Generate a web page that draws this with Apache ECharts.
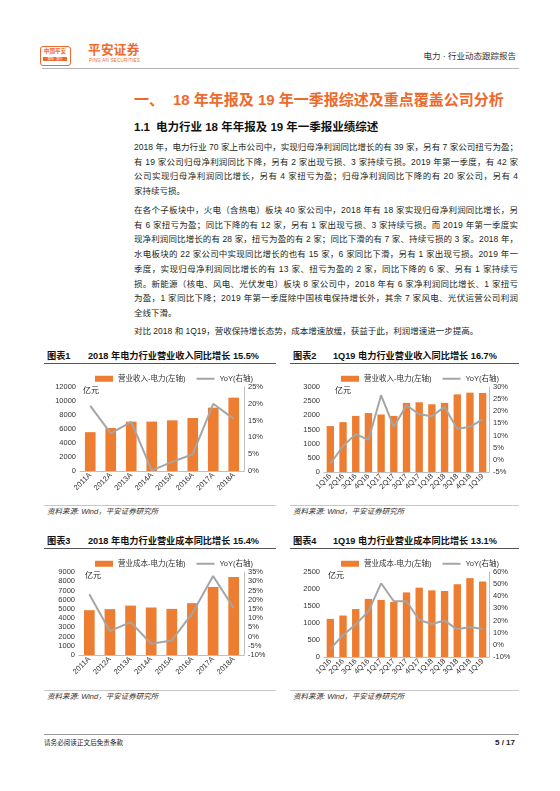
<!DOCTYPE html>
<html>
<head>
<meta charset="utf-8">
<script src="https://cdn.jsdelivr.net/npm/echarts@6/dist/echarts.min.js"></script>
<style>
  body { margin: 0; background: #fff; }
  #page {
    position: relative; width: 560px; height: 791px; overflow: hidden; background: #fff;
    font-family: "Liberation Sans", "Noto Sans CJK SC", sans-serif; color: #231f20;
  }
  .abs { position: absolute; white-space: nowrap; }
  .line { position: absolute; left: 134px; font-size: 8.5px; line-height: 12px; white-space: nowrap; color: #231f20; }
  .ctitle { position: absolute; font-size: 9.2px; font-weight: bold; line-height: 12px; color: #111; }
  .rule { position: absolute; height: 0; }
  .src { position: absolute; font-size: 7.5px; font-style: italic; color: #333; line-height: 10px; }
  .chart { position: absolute; }
</style>
</head>
<body>
<div id="page">
  <!-- 页眉 -->
  <div class="abs" style="left:40px;top:46px;width:29px;height:18px;border:1px solid #ee6a2c;border-radius:3px;"></div>
  <div class="abs" style="left:43px;top:48px;width:24px;font-size:5.6px;line-height:7px;font-weight:bold;color:#ee6a2c;text-align:center;">中国平安</div>
  <div class="abs" style="left:43px;top:57px;width:24px;height:4px;background:#ee6a2c;font-size:3px;line-height:4px;color:#fff;text-align:center;">保险 · 银行</div>
  <div class="abs" style="left:88px;top:43px;font-size:12.6px;line-height:15px;font-weight:bold;color:#ee6a2c;letter-spacing:0.3px;">平安证券</div>
  <div class="abs" style="left:89px;top:58px;font-size:4.6px;line-height:5px;color:#ee6a2c;letter-spacing:0.2px;">PING AN SECURITIES</div>
  <div class="abs" style="right:44px;top:51px;font-size:8.5px;line-height:11px;color:#333;">电力 · 行业动态跟踪报告</div>
  <div class="rule" style="left:42px;top:68px;width:477px;border-top:1.5px solid #b5b5b5;"></div>

  <!-- 标题 -->
  <div class="abs" style="left:134px;top:91px;font-size:15px;line-height:18px;font-weight:bold;color:#ee6a2c;">一、</div>
  <div class="abs" style="left:173px;top:91px;font-size:15px;line-height:18px;font-weight:bold;color:#ee6a2c;">18 年年报及 19 年一季报综述及重点覆盖公司分析</div>
  <div class="abs" style="left:134px;top:120px;font-size:11.5px;line-height:14px;font-weight:bold;color:#111;">1.1</div>
  <div class="abs" style="left:156px;top:120px;font-size:11.5px;line-height:14px;font-weight:bold;color:#111;">电力行业 18 年年报及 19 年一季报业绩综述</div>

  <div id="body"></div>

  <!-- 图表标题 -->
  <div class="ctitle" style="left:47px;top:350px;">图表1</div>
  <div class="ctitle" style="left:88px;top:350px;">2018 年电力行业营业收入同比增长 15.5%</div>
  <div class="rule" style="left:44px;top:363px;width:232px;border-top:1px solid #555;"></div>
  <div class="ctitle" style="left:293px;top:350px;">图表2</div>
  <div class="ctitle" style="left:333px;top:350px;">1Q19 电力行业营业收入同比增长 16.7%</div>
  <div class="rule" style="left:290px;top:363px;width:229px;border-top:1px solid #555;"></div>

  <div id="c1" class="chart" style="left:44px;top:366px;width:234px;height:138px;"></div>
  <div id="c2" class="chart" style="left:290px;top:366px;width:230px;height:138px;"></div>

  <div class="rule" style="left:44px;top:505px;width:232px;border-top:1px solid #c8c8c8;"></div>
  <div class="src" style="left:47px;top:507px;">资料来源: Wind，平安证券研究所</div>
  <div class="rule" style="left:290px;top:505px;width:229px;border-top:1px solid #c8c8c8;"></div>
  <div class="src" style="left:293px;top:507px;">资料来源: Wind，平安证券研究所</div>

  <div class="ctitle" style="left:47px;top:535px;">图表3</div>
  <div class="ctitle" style="left:88px;top:535px;">2018 年电力行业营业成本同比增长 15.4%</div>
  <div class="rule" style="left:44px;top:548px;width:232px;border-top:1px solid #555;"></div>
  <div class="ctitle" style="left:293px;top:535px;">图表4</div>
  <div class="ctitle" style="left:333px;top:535px;">1Q19 电力行业营业成本同比增长 13.1%</div>
  <div class="rule" style="left:290px;top:548px;width:229px;border-top:1px solid #555;"></div>

  <div id="c3" class="chart" style="left:44px;top:551px;width:234px;height:138px;"></div>
  <div id="c4" class="chart" style="left:290px;top:551px;width:230px;height:138px;"></div>

  <div class="rule" style="left:44px;top:690px;width:232px;border-top:1px solid #c8c8c8;"></div>
  <div class="src" style="left:47px;top:692px;">资料来源: Wind，平安证券研究所</div>
  <div class="rule" style="left:290px;top:690px;width:229px;border-top:1px solid #c8c8c8;"></div>
  <div class="src" style="left:293px;top:692px;">资料来源: Wind，平安证券研究所</div>

  <!-- 页脚 -->
  <div class="rule" style="left:44px;top:734px;width:475px;border-top:1px solid #999;"></div>
  <div class="abs" style="left:44px;top:739px;font-size:6.6px;line-height:8px;color:#222;">请务必阅读正文后免责条款</div>
  <div class="abs" style="right:45px;top:738px;font-size:8px;line-height:10px;font-weight:bold;color:#222;">5 / 17</div>
</div>

<script>
// 正文，每行一条，last 表示段末行
const bodyLines = [
  ["2018 年，电力行业 70 家上市公司中，实现归母净利润同比增长的有 39 家，另有 7 家公司扭亏为盈；", 147, false],
  ["有 19 家公司归母净利润同比下降，另有 2 家出现亏损、3 家持续亏损。2019 年第一季度，有 42 家", 161.7, false],
  ["公司实现归母净利润同比增长，另有 4 家扭亏为盈；归母净利润同比下降的有 20 家公司，另有 4", 176.4, false],
  ["家持续亏损。", 191.1, true],
  ["在各个子板块中，火电（含热电）板块 40 家公司中，2018 年有 18 家实现归母净利润同比增长，另", 210, false],
  ["有 6 家扭亏为盈；同比下降的有 12 家，另有 1 家出现亏损、3 家持续亏损。而 2019 年第一季度实", 224.7, false],
  ["现净利润同比增长的有 28 家，扭亏为盈的有 2 家；同比下滑的有 7 家、持续亏损的 3 家。2018 年，", 239.4, false],
  ["水电板块的 22 家公司中实现同比增长的也有 15 家，6 家同比下滑，另有 1 家出现亏损。2019 年一", 254.1, false],
  ["季度，实现归母净利润同比增长的有 13 家、扭亏为盈的 2 家，同比下降的 6 家、另有 1 家持续亏", 268.8, false],
  ["损。新能源（核电、风电、光伏发电）板块 8 家公司中，2018 年有 6 家净利润同比增长、1 家扭亏", 283.5, false],
  ["为盈，1 家同比下降；2019 年第一季度除中国核电保持增长外，其余 7 家风电、光伏运营公司利润", 298.2, false],
  ["全线下滑。", 312.9, true],
  ["对比 2018 和 1Q19，营收保持增长态势，成本增速放缓，获益于此，利润增速进一步提高。", 331, true]
];

const years = ["2011A", "2012A", "2013A", "2014A", "2015A", "2016A", "2017A", "2018A"];
const quarters = ["1Q16", "2Q16", "3Q16", "4Q16", "1Q17", "2Q17", "3Q17", "4Q17", "1Q18", "2Q18", "3Q18", "4Q18", "1Q19"];

// 营业收入（亿元）与同比（%）
const revenueYear = [5550, 6140, 7050, 7060, 7240, 7570, 9050, 10480];
const revenueYearYoY = [19.4, 11.2, 14.6, 0.2, 2.7, 5.0, 20.0, 15.5];
const revenueQtr = [1620, 1760, 1980, 2080, 2030, 1980, 2440, 2460, 2390, 2440, 2740, 2800, 2790];
const revenueQtrYoY = [-1.6, 5.7, 10.6, 8.2, 26.6, 13.6, 22.5, 18.8, 18.0, 21.8, 12.7, 13.6, 16.7];

// 营业成本（亿元）与同比（%）
const costYear = [4860, 4970, 5360, 5150, 5000, 5620, 7380, 8460];
const costYearYoY = [22.9, 2.9, 7.8, -3.9, -2.1, 12.7, 32.8, 15.4];
const costQtr = [1120, 1220, 1410, 1710, 1680, 1620, 1900, 2040, 1960, 1940, 2140, 2320, 2220];
const costQtrYoY = [-3.1, 7.9, 16.9, 27.6, 50.7, 35.9, 35.9, 20.5, 17.2, 20.0, 12.8, 14.7, 13.1];

// 正文排版：非段末行两端对齐到 384px
const TEXT_W = 384;
const bodyEl = document.getElementById("body");
bodyLines.forEach(([txt, y, last]) => {
  const d = document.createElement("div");
  d.className = "line";
  d.textContent = txt;
  d.style.top = (y - 6) + "px";
  bodyEl.appendChild(d);
  if (!last) {
    const w = d.getBoundingClientRect().width;
    const n = [...txt].length;
    d.style.letterSpacing = ((TEXT_W - w) / (n - 1)) + "px";
  }
});

const FONT = "Liberation Sans, Noto Sans CJK SC, sans-serif";

const makeOption = (cats, bars, yoy, barName, left, right, grid, barWidth, unitX) => ({
  animation: false,
  textStyle: { fontFamily: FONT },
  legend: {
    top: 4,
    left: grid.legendLeft,
    itemWidth: 18,
    itemHeight: 6,
    itemGap: 11,
    symbolKeepAspect: true,
    textStyle: { fontSize: 7.5, color: "#333", fontFamily: FONT },
    data: [
      { name: barName, icon: "rect" },
      { name: "YoY(右轴)", icon: "path://M0,0H18V2H0Z" }, // 只画一条线，不要圆点
    ],
  },
  grid: { left: grid.left, right: grid.right, top: grid.top, bottom: grid.bottom },
  graphic: [
    {
      type: "text",
      left: unitX,
      top: 21,
      style: { text: "亿元", fontSize: 8, fill: "#222", fontFamily: FONT },
    },
  ],
  xAxis: {
    type: "category",
    data: cats,
    axisLine: { show: true, lineStyle: { color: "#bfbfbf", width: 1 } },
    axisTick: { show: false },
    axisLabel: { rotate: 45, fontSize: 7.5, color: "#333", margin: 3, interval: 0 },
  },
  yAxis: [
    {
      type: "value",
      min: 0,
      max: left.max,
      interval: left.interval,
      splitLine: { show: false },
      axisLine: { show: false },
      axisTick: { show: false },
      axisLabel: { fontSize: 7.5, color: "#333", margin: 4, formatter: (v) => String(v) },
    },
    {
      type: "value",
      min: right.min,
      max: right.max,
      interval: right.interval,
      splitLine: { show: false },
      axisLine: { show: true, lineStyle: { color: "#bfbfbf", width: 1 } },
      axisTick: { show: false },
      axisLabel: { fontSize: 7.5, color: "#333", margin: 4, formatter: (v) => v + "%" },
    },
  ],
  series: [
    {
      name: barName,
      type: "bar",
      data: bars,
      barWidth: barWidth,
      itemStyle: { color: "#ed7d31" },
    },
    {
      name: "YoY(右轴)",
      type: "line",
      yAxisIndex: 1,
      data: yoy,
      symbol: "none",
      lineStyle: { color: "#a5a5a5", width: 2 },
      itemStyle: { color: "#a5a5a5" },
    },
  ],
});

const c1 = echarts.init(document.getElementById("c1"));
c1.setOption(makeOption(years, revenueYear, revenueYearYoY, "营业收入-电力(左轴)",
  { max: 12000, interval: 2000 }, { min: 0, max: 25, interval: 5 },
  { left: 36, right: 34, top: 21, bottom: 33, legendLeft: 46 }, "52%", 39));

const c2 = echarts.init(document.getElementById("c2"));
c2.setOption(makeOption(quarters, revenueQtr, revenueQtrYoY, "营业收入-电力(左轴)",
  { max: 3000, interval: 500 }, { min: -5, max: 30, interval: 5 },
  { left: 34, right: 31, top: 21, bottom: 32, legendLeft: 46 }, "58%", 45));

const c3 = echarts.init(document.getElementById("c3"));
c3.setOption(makeOption(years, costYear, costYearYoY, "营业成本-电力(左轴)",
  { max: 9000, interval: 1000 }, { min: -10, max: 35, interval: 5 },
  { left: 35, right: 34, top: 21, bottom: 34, legendLeft: 46 }, "52%", 41));

const c4 = echarts.init(document.getElementById("c4"));
c4.setOption(makeOption(quarters, costQtr, costQtrYoY, "营业成本-电力(左轴)",
  { max: 2500, interval: 500 }, { min: -10, max: 60, interval: 10 },
  { left: 34, right: 31, top: 21, bottom: 32, legendLeft: 46 }, "58%", 38));
</script>
</body>
</html>
